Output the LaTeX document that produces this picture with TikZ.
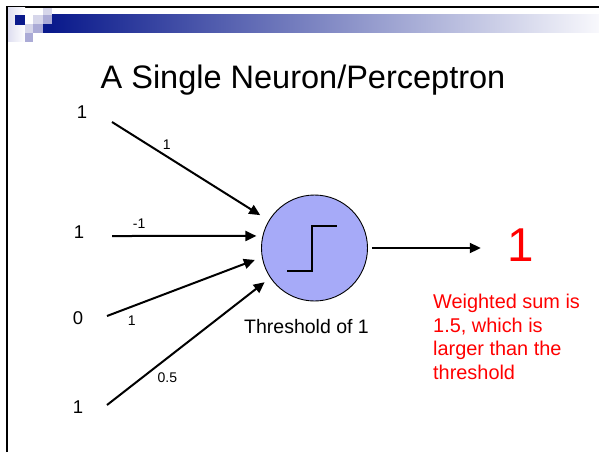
\documentclass[tikz,border=0pt]{standalone}
\usepackage{fontspec}
\setmainfont{Liberation Sans}
\usetikzlibrary{positioning,arrows.meta}
\definecolor{navy}{RGB}{10,26,140}
\definecolor{barend}{RGB}{248,248,252}
\definecolor{lav}{RGB}{214,214,234}
\definecolor{lavm}{RGB}{171,171,214}
\definecolor{lavp}{RGB}{222,222,240}
\definecolor{neufill}{RGB}{166,170,248}
\tikzset{
  inp/.style ={inner sep=0pt, font=\fontsize{18.5}{21}\selectfont},
  neu/.style ={circle, draw=black, line width=0.9pt, fill=neufill, minimum size=106pt, inner sep=0pt},
  stp/.style ={line width=1.7pt},
  wt/.style  ={inner sep=0pt, font=\fontsize{14}{16}\selectfont},
  e/.style   ={-{Triangle[length=11pt,width=10pt]}, line width=2pt},
  lbl/.style ={inner sep=0pt, font=\fontsize{19.5}{23}\selectfont},
  resv/.style={inner sep=0pt, red, font=\fontsize{47.5}{50}\selectfont},
  note/.style={inner sep=0pt, red, align=left, font=\fontsize{19.9}{23.5}\selectfont},
  ttl/.style ={inner sep=0pt, font=\fontsize{32.5}{36}\selectfont},
}
\begin{document}
\begin{tikzpicture}[x=1pt,y=-1pt]
\useasboundingbox (0,0) rectangle (599,452);
%% ---------- slide frame and header bar ----------
\draw[line width=2pt] (7,452) |- (599,7);
\shade[left color=lavp, right color=white] (8,8) rectangle (25,42);
\shade[left color=navy, right color=barend] (52,15) rectangle (599,33);
\fill[navy] (15,15) rectangle (25,25);
\fill[navy] (43,24) rectangle (52,33);
\fill[lav]  (43,8)  rectangle (52,15);
\fill[lav]  (33,15) rectangle (43,24);
\fill[lav]  (25,24) rectangle (33,33);
\fill[lavm] (43,15) rectangle (52,24);
\fill[lavm] (33,24) rectangle (43,33);
\fill[lavm] (25,33) rectangle (33,42);
%% ---------- title ----------
\node[ttl, anchor=base] (title) at (303,88) {A Single Neuron/Perceptron};
%% ---------- inputs ----------
\node[inp] (in1) at (82,112) {1};
\node[inp] (in2) at (79,232) {1};
\node[inp] (in3) at (78,318) {0};
\node[inp] (in4) at (78,407) {1};
\coordinate (t1) at (112,122);
\coordinate (t2) at (112,236);
\coordinate (t3) at (107,316);
\coordinate (t4) at (107,405);
%% ---------- neuron with step function ----------
\node[neu] (neuron) at (314.5,248) {};
\draw[stp] ([shift={(-27.5,23)}]neuron.center) -| ([shift={(-2.5,-22)}]neuron.center)
  -- ([shift={(22.5,-22)}]neuron.center);
\node[lbl] (thr) at (306.5,327) {Threshold of 1};
%% ---------- weighted connections ----------
\draw[e, shorten >=10pt]  (t1) -- (neuron.149) node[wt, pos=.35, above=6pt] {1};
\draw[e, shorten >=6pt]   (t2) -- (neuron.167) node[wt, pos=.18, above=6pt] {-1};
\draw[e, shorten >=7.5pt] (t3) -- (neuron.190) node[wt, pos=.16, below=8pt] {1};
\draw[e, shorten >=7pt]   (t4) -- (neuron.214) node[wt, pos=.37, below=14pt] {0.5};
%% ---------- output ----------
\node[resv] (res) at (521,245) {1};
\draw[e, shorten <=4pt, shorten >=26.8pt] (neuron.east) -- (neuron.east -| res.west);
% explanation under the output
\node[note, anchor=north west] (sum) at (433,294) {Weighted sum is\\1.5, which is\\larger than the\\threshold};
\end{tikzpicture}
\end{document}
